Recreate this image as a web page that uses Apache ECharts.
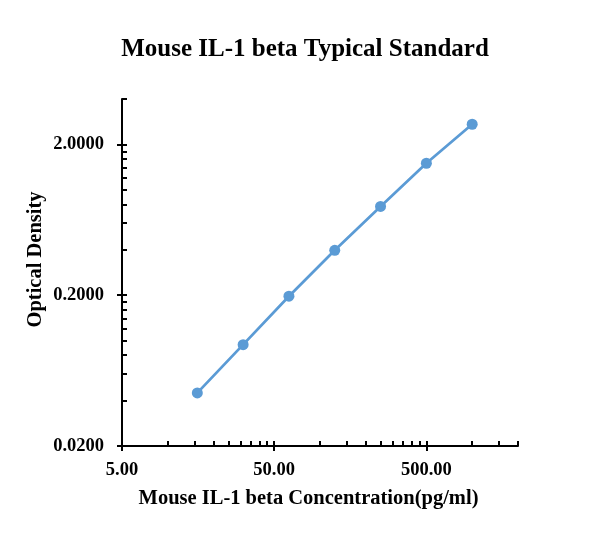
<!DOCTYPE html>
<html>
<head>
<meta charset="utf-8">
<script src="https://cdn.jsdelivr.net/npm/echarts@6/dist/echarts.min.js"></script>
<style>
  html, body { margin: 0; padding: 0; background: #fff; }
  #chart { width: 610px; height: 557px; }
</style>
</head>
<body>
<div id="chart"></div>
<script>
// standard curve values
var concentration = [15.625, 31.25, 62.5, 125, 250, 500, 1000];
var opticalDensity = [0.045, 0.094, 0.197, 0.397, 0.776, 1.50, 2.72];

var xMajorTicks = [5, 50, 500];
var xMinorTicks = [10, 15, 20, 25, 30, 35, 40, 45, 100, 150, 200, 250, 300, 350, 400, 450, 1000, 1500, 2000];
var yMajorTicks = [0.02, 0.2, 2];
var yMinorTicks = [0.04, 0.06, 0.08, 0.1, 0.12, 0.14, 0.16, 0.18, 0.4, 0.6, 0.8, 1, 1.2, 1.4, 1.6, 1.8, 4];

var serif = '"Liberation Serif", "Times New Roman", serif';
var lineStyle = { color: '#000', width: 2 };

var chart = echarts.init(document.getElementById('chart'));

var points = concentration.map(function(c, i) { return [c, opticalDensity[i]]; });

var option = {
    backgroundColor: '#fff',
    animation: false,
    title: {
        text: 'Mouse IL-1 beta Typical Standard',
        left: 'center',
        top: 32,
        textStyle: { fontFamily: serif, fontWeight: 'bold', fontSize: 25, color: '#000' }
    },
    grid: { left: 122, right: 92, top: 99, bottom: 111 },
    xAxis: [
        {
            type: 'log', min: 5, max: 2000,
            name: 'Mouse IL-1 beta Concentration(pg/ml)',
            nameLocation: 'middle', nameGap: 42, nameMoveOverlap: false,
            nameTextStyle: { fontFamily: serif, fontWeight: 'bold', fontSize: 20.5, color: '#000', padding: [0, 23, 0, 0] },
            axisLine: { show: true, lineStyle: lineStyle },
            axisTick: { show: true, inside: false, length: 5, lineStyle: lineStyle, customValues: xMajorTicks },
            axisLabel: {
                customValues: xMajorTicks, margin: 15,
                fontFamily: serif, fontWeight: 'bold', fontSize: 18.5, color: '#000',
                formatter: function(v) { return Number(v).toFixed(2); }
            },
            splitLine: { show: false }
        },
        {
            type: 'log', min: 5, max: 2000, position: 'bottom',
            axisLine: { show: false },
            axisTick: { show: true, inside: true, length: 5, lineStyle: lineStyle, customValues: xMajorTicks.concat(xMinorTicks) },
            axisLabel: { show: false },
            splitLine: { show: false }
        }
    ],
    yAxis: [
        {
            type: 'log', min: 0.02, max: 4,
            name: 'Optical Density',
            nameLocation: 'middle', nameGap: 76, nameMoveOverlap: false,
            nameTextStyle: { fontFamily: serif, fontWeight: 'bold', fontSize: 20.5, color: '#000', padding: [0, 0, 0, 26] },
            axisLine: { show: true, lineStyle: lineStyle },
            axisTick: { show: true, inside: false, length: 5, lineStyle: lineStyle, customValues: yMajorTicks },
            axisLabel: {
                customValues: yMajorTicks, margin: 18,
                fontFamily: serif, fontWeight: 'bold', fontSize: 18.5, color: '#000',
                formatter: function(v) { return Number(v).toFixed(4); }
            },
            splitLine: { show: false }
        },
        {
            type: 'log', min: 0.02, max: 4, position: 'left',
            axisLine: { show: false },
            axisTick: { show: true, inside: true, length: 5, lineStyle: lineStyle, customValues: yMajorTicks.concat(yMinorTicks) },
            axisLabel: { show: false },
            splitLine: { show: false }
        }
    ],
    series: [
        {
            type: 'line',
            xAxisIndex: 0, yAxisIndex: 0,
            data: points,
            symbol: 'circle', symbolSize: 11,
            itemStyle: { color: '#5B9BD5' },
            lineStyle: { color: '#5B9BD5', width: 2.75 }
        }
    ]
};

chart.setOption(option);
</script>
</body>
</html>
